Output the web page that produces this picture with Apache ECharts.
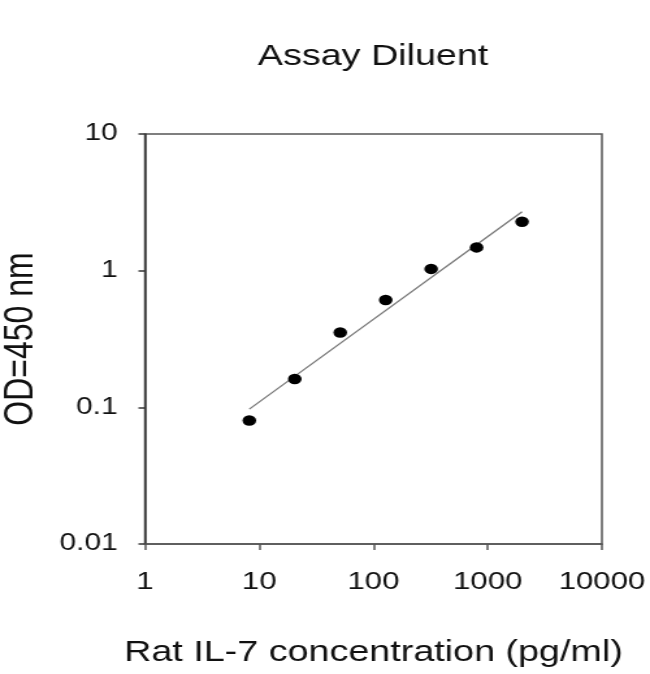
<!DOCTYPE html>
<html>
<head>
    <meta charset="utf-8">
    <title>Assay Diluent</title>
    <script src="https://cdn.jsdelivr.net/npm/echarts@6/dist/echarts.min.js"></script>
    <style>
        html, body { margin: 0; padding: 0; background: #fff; overflow: hidden; }
        /* the original picture is stretched sideways, so the chart is drawn narrow and widened */
        #main { width: 500px; height: 674px; transform: scaleX(1.3); transform-origin: 0 0; }
    </style>
</head>
<body>
    <div id="main"></div>
    <script type="text/javascript">
    // standard curve: concentration (pg/ml) vs OD
    var concentration = [8.192, 20.48, 51.2, 128, 320, 800, 2000];
    var od = [0.080, 0.161, 0.353, 0.61, 1.03, 1.48, 2.28];
    // fitted line end points
    var fitX = [8.192, 2000];
    var fitY = [0.097, 2.70];

    var points = concentration.map(function (c, i) { return [c, od[i]]; });
    var fit = fitX.map(function (x, i) { return [x, fitY[i]]; });

    var font = '"Liberation Sans", Arial, sans-serif';
    function plain(v) { return String(Number(v.toPrecision(6))); }

    var myChart = echarts.init(document.getElementById('main'));
    var option = {
        animation: false,
        title: {
            text: 'Assay Diluent',
            left: 282,
            top: 37,
            textAlign: 'center',
            textStyle: { fontFamily: font, fontSize: 29, fontWeight: 'normal', color: '#111' }
        },
        grid: {
            left: 111.5,
            top: 134,
            right: 37,
            bottom: 130,
            outerBoundsMode: 'none',
            containLabel: false,
            show: true,
            borderColor: '#555',
            borderWidth: 1.5
        },
        xAxis: {
            type: 'log',
            logBase: 10,
            min: 1,
            max: 10000,
            name: 'Rat IL-7 concentration (pg/ml)',
            nameLocation: 'middle',
            nameGap: 94,
            nameMoveOverlap: false,
            nameTextStyle: { fontFamily: font, fontSize: 29, color: '#111' },
            axisLine: { lineStyle: { color: '#555', width: 1.5 } },
            axisTick: { length: 6, lineStyle: { color: '#555', width: 1.5 } },
            axisLabel: { fontFamily: font, fontSize: 24, color: '#111', margin: 26, formatter: plain },
            splitLine: { show: false },
            minorTick: { show: false }
        },
        yAxis: {
            type: 'log',
            logBase: 10,
            min: 0.01,
            max: 10,
            name: 'OD=450 nm',
            nameLocation: 'middle',
            nameGap: 79,
            nameMoveOverlap: false,
            nameTextStyle: { fontFamily: font, fontSize: 32, color: '#111' },
            axisLine: { lineStyle: { color: '#333', width: 1.5 } },
            axisTick: { length: 5, lineStyle: { color: '#333', width: 1.5 } },
            axisLabel: { fontFamily: font, fontSize: 23, color: '#111', margin: 21, formatter: plain },
            splitLine: { show: false }
        },
        series: [
            {
                name: 'fit',
                type: 'line',
                data: fit,
                symbol: 'none',
                lineStyle: { color: '#777', width: 1.3 },
                z: 2
            },
            {
                name: 'OD',
                type: 'scatter',
                data: points,
                symbol: 'circle',
                symbolSize: 10.5,
                itemStyle: { color: '#000', opacity: 1 },
                z: 3
            }
        ]
    };
    myChart.setOption(option);
    </script>
</body>
</html>
